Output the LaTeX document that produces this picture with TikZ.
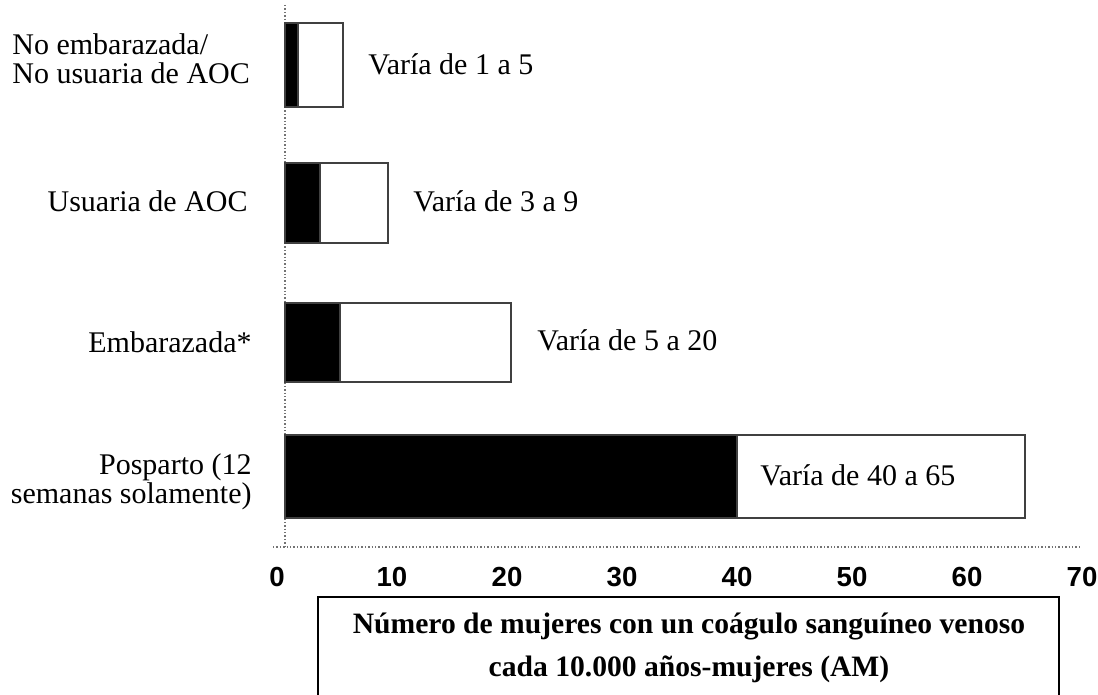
\documentclass[tikz,border=0pt]{standalone}
\usepackage{fontspec}
\setmainfont{Liberation Serif}
\newfontfamily\tickfont{Liberation Sans}
\begin{document}
\begin{tikzpicture}[x=0.5pt,y=-0.5pt,
  lbl/.style={font=\fontsize{15}{14.5}\selectfont, inner sep=0pt},
  ticklbl/.style={font=\tickfont\bfseries\fontsize{13.8}{14}\selectfont, inner sep=0pt},
  titletext/.style={font=\bfseries\fontsize{14.8}{14}\selectfont, inner sep=0pt},
  barframe/.style={draw=black!75, line width=1.2pt, fill=white},
  barfill/.style={fill=black, draw=black!75, line width=1.2pt},
  axisline/.style={draw=black!55, line width=0.7pt, densely dotted}]
\useasboundingbox (0,0) rectangle (1098,695);
% axes
\draw[axisline] (285,5) -- (285,547);
\draw[axisline] (273,547) -- (1080,547);
% bars
\draw[barframe] (285,23) rectangle (343,107);
\draw[barfill]  (285,23) rectangle (298,107);
\draw[barframe] (285,163) rectangle (388,243);
\draw[barfill]  (285,163) rectangle (320,243);
\draw[barframe] (285,303) rectangle (511,382);
\draw[barfill]  (285,303) rectangle (340,382);
\draw[barframe] (285,435) rectangle (1025,518);
\draw[barfill]  (285,435) rectangle (737,518);
% category labels
\node[lbl, anchor=west, align=left] (c1) at (12,59) {No embarazada/\\No usuaria de AOC};
\node[lbl, anchor=east] (c2) at (248,201) {Usuaria de AOC};
\node[lbl, anchor=east] (c3) at (252,342) {Embarazada*};
\node[lbl, anchor=east, align=right] (c4) at (252,482) {Posparto (12\\semanas solamente)};
% range labels
\node[lbl, anchor=west] (r1) at (368,64) {Varía de 1 a 5};
\node[lbl, anchor=west] (r2) at (413,201) {Varía de 3 a 9};
\node[lbl, anchor=west] (r3) at (537,340) {Varía de 5 a 20};
\node[lbl, anchor=west] (r4) at (760,475) {Varía de 40 a 65};
% ticks
\foreach \v [count=\i from 0] in {0,10,20,30,40,50,60,70}
  \node[ticklbl] (t\i) at (277+115*\i,577) {\v};
% title box
\draw[black, line width=1.1pt] (318,697) -- (318,597) -- (1059,597) -- (1059,697);
\node[titletext] (ttl1) at (689,626) {Número de mujeres con un coágulo sanguíneo venoso};
\node[titletext] (ttl2) at (689,669) {cada 10.000 años-mujeres (AM)};
\end{tikzpicture}
\end{document}
